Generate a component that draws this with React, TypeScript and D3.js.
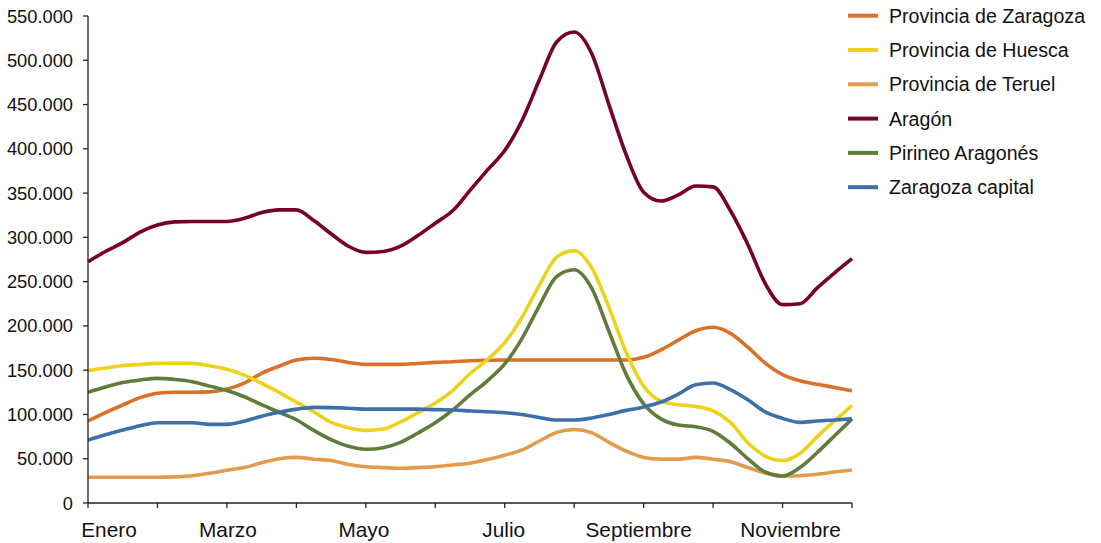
import React from "react";
import * as d3 from "d3";

// x positions: quarter-month steps from January (0) to December (11)
const steps: number[] = d3.range(0, 45).map((i) => i / 4);

const zaragozaProv = [92.6, 102, 110.7, 119, 124, 125, 125, 125.5, 128.7, 135.5, 146.5, 154.5, 161.5, 163.4, 162, 158.7, 156.6, 156.6, 156.6, 157.6, 158.8, 159.6, 160.7, 161.3, 161.5, 161.5, 161.5, 161.5, 161.5, 161.5, 161.5, 161.5, 164.5, 173, 184, 194.5, 198.5, 191.6, 176, 158, 145, 138, 134, 130.5, 126.8];
const huesca = [149.5, 152.5, 155, 156.5, 157.7, 158, 157.7, 155, 151, 144.5, 135, 125, 114, 103, 91, 85, 82, 83.5, 91.5, 102, 113, 127, 146, 162, 181, 210, 246, 278, 285, 266, 221, 170, 132, 115, 111, 109, 104, 91, 68, 53, 48, 56, 75, 93, 110];
const teruel = [29, 29, 29, 29, 29, 29.5, 30.8, 33.5, 37, 40, 45.5, 50, 51.5, 49.5, 48, 43.5, 41, 40, 39.2, 40, 41, 43, 45, 49, 54, 60, 70, 79.8, 83, 79.5, 68.5, 58.5, 51.5, 49.5, 49.6, 51.5, 49.5, 46.7, 40, 34, 30.5, 30.8, 32.5, 35, 37.3];
const aragon = [272.5, 284, 294, 306, 314, 317.5, 318, 318, 318, 321.5, 328, 331, 331, 319, 304, 290, 283, 284, 290, 302, 316, 330, 353, 376, 398, 432, 478, 521, 532, 508, 450, 393, 351, 341, 348, 358, 357, 330, 292, 248, 224, 225, 243, 260, 276];
const pirineo = [125, 131, 136, 139, 140.8, 139.5, 137, 132, 127, 120, 111, 102.5, 94, 82, 71.5, 64, 60.7, 62.5, 68.5, 79, 90.5, 105, 122, 138, 157, 186, 223, 256, 263.5, 243, 194, 145, 112, 95, 88, 86, 81, 67.5, 50, 35, 30.5, 40, 57, 76, 95];
const zaragozaCap = [71, 77, 82.4, 87.3, 90.7, 90.7, 90.7, 88.8, 88.8, 92.4, 98, 102.3, 106, 108, 107.7, 107, 106, 106, 106, 106, 105.4, 105, 104, 103, 102, 100, 96.6, 93.7, 93.7, 96, 100, 104.6, 108.5, 114, 123, 133.5, 135.5, 128, 116.5, 103, 95.6, 91, 92.6, 93.8, 95];

const seriesNames = ["Provincia de Zaragoza", "Provincia de Huesca", "Provincia de Teruel", "Aragón", "Pirineo Aragonés", "Zaragoza capital"];
const seriesValues = [zaragozaProv, huesca, teruel, aragon, pirineo, zaragozaCap];
const seriesColors = ["#D8722A", "#EDD21C", "#E29C4C", "#76002A", "#607C3A", "#3D70A8"];

const yTicks = d3.range(0, 550001, 50000);
const monthTicks = d3.range(0, 12);
const monthLabels = ["Enero", "Marzo", "Mayo", "Julio", "Septiembre", "Noviembre"];
const monthLabelIdx = [0, 2, 4, 6, 8, 10];
const monthLabelDx = [21, 1, -2, -1, -5, 8];

const fmt = (v: number) => (v === 0 ? "0" : d3.format(",")(v).replace(/,/g, "."));

export default function App() {
  const W = 1101, H = 543;
  const left = 88, right = 852, top = 16, bottom = 503;
  const x = d3.scaleLinear().domain([0, 11]).range([left, right]);
  const y = d3.scaleLinear().domain([0, 550000]).range([bottom, top]);
  const line = d3
    .line<number>()
    .x((_, i) => x(steps[i]))
    .y((d) => y(d * 1000))
    .curve(d3.curveMonotoneX);
  const font = "'Liberation Sans', Arial, sans-serif";

  return (
    <svg width={W} height={H} style={{ position: "absolute", left: 0, top: 0, background: "#fff" }} fontFamily={font}>
      {seriesValues.map((vals, s) => (
        <path key={s} d={line(vals) || ""} fill="none" stroke={seriesColors[s]} strokeWidth={3.6} strokeLinejoin="round" />
      ))}
      {/* y axis */}
      <line x1={left} x2={left} y1={y(550000)} y2={bottom} stroke="#222" strokeWidth={1.3} />
      {yTicks.map((t) => (
        <g key={t}>
          <line x1={left - 5} x2={left} y1={y(t)} y2={y(t)} stroke="#222" strokeWidth={1.3} />
          <text x={73} y={y(t)} dy="0.36em" textAnchor="end" fontSize={18.3} fill="#111">
            {fmt(t)}
          </text>
        </g>
      ))}
      {/* x axis */}
      <line x1={left} x2={right} y1={bottom} y2={bottom} stroke="#222" strokeWidth={1.3} />
      {monthTicks.map((m) => (
        <line key={m} x1={x(m)} x2={x(m)} y1={bottom} y2={bottom + 5} stroke="#222" strokeWidth={1.3} />
      ))}
      {monthLabels.map((lab, i) => (
        <text key={lab} x={x(monthLabelIdx[i]) + monthLabelDx[i]} y={537} textAnchor="middle" fontSize={20.8} fill="#111">
          {lab}
        </text>
      ))}
      {/* legend */}
      {seriesNames.map((name, i) => {
        const ly = 15.7 + i * 34.3;
        return (
          <g key={name}>
            <line x1={848} x2={878} y1={ly} y2={ly} stroke={seriesColors[i]} strokeWidth={4} />
            <text x={889} y={ly + 7} fontSize={19.6} fill="#111">
              {name}
            </text>
          </g>
        );
      })}
    </svg>
  );
}
